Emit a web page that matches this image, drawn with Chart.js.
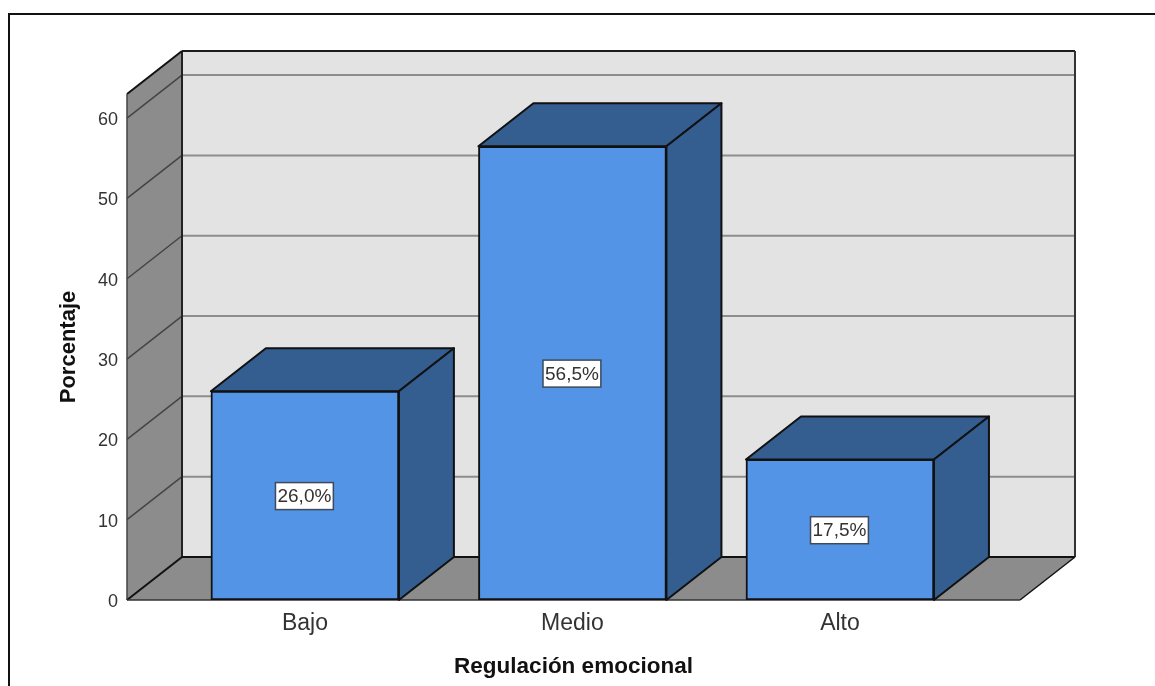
<!DOCTYPE html>
<html lang="es">
<head>
  <meta charset="UTF-8">
  <title>Regulación emocional</title>
  <script src="https://cdn.jsdelivr.net/npm/chart.js"></script>
  <style>
    html, body { margin: 0; background: #fff; overflow: hidden; }
    #marco {
      position: relative;
      width: 1155px;
      height: 686px;
    }
    #marco::before {
      content: '';
      position: absolute;
      left: 8px;
      top: 13px;
      right: 0;
      bottom: 0;
      border-left: 2px solid #111;
      border-top: 2px solid #111;
    }
    canvas { position: absolute; left: 0; top: 0; }
  </style>
</head>
<body>
  <div id="marco"><canvas id="grafico" width="1155" height="686"></canvas></div>

  <script>
    const categorias = ['Bajo', 'Medio', 'Alto'];
    const porcentajes = [26.0, 56.5, 17.5];
    const ticksY = [0, 10, 20, 30, 40, 50, 60];
    const maxY = 63;

    // desplazamiento de la profundidad 3D
    const profX = 55;
    const profY = -43;

    const fuente = '"Liberation Sans", Arial, sans-serif';

    function poligono(ctx, puntos, relleno, borde, grosor) {
      ctx.beginPath();
      puntos.forEach((p, i) => i ? ctx.lineTo(p[0], p[1]) : ctx.moveTo(p[0], p[1]));
      ctx.closePath();
      if (relleno) { ctx.fillStyle = relleno; ctx.fill(); }
      if (borde) { ctx.strokeStyle = borde; ctx.lineWidth = grosor; ctx.stroke(); }
    }

    function linea(ctx, x1, y1, x2, y2, color, grosor) {
      ctx.beginPath();
      ctx.moveTo(x1, y1);
      ctx.lineTo(x2, y2);
      ctx.strokeStyle = color;
      ctx.lineWidth = grosor;
      ctx.stroke();
    }

    // paredes, suelo y caras laterales de las barras
    const caja3d = {
      id: 'caja3d',
      beforeDatasetsDraw(chart) {
        const { ctx, chartArea: a, scales: { y } } = chart;
        const izq = a.left, der = a.right, arr = a.top, aba = a.bottom;
        ctx.save();
        ctx.lineJoin = 'round';

        poligono(ctx, [[izq + profX, arr + profY], [der + profX, arr + profY], [der + profX, aba + profY], [izq + profX, aba + profY]], '#e3e3e3');
        poligono(ctx, [[izq, arr], [izq + profX, arr + profY], [izq + profX, aba + profY], [izq, aba]], '#8c8c8c');
        poligono(ctx, [[izq, aba], [izq + profX, aba + profY], [der + profX, aba + profY], [der, aba]], '#8c8c8c');

        ticksY.forEach(v => {
          if (v === 0) return;
          const py = y.getPixelForValue(v);
          linea(ctx, izq, py, izq + profX, py + profY, '#444', 1.5);
          linea(ctx, izq + profX, py + profY, der + profX, py + profY, '#8d8d8d', 2);
        });

        linea(ctx, izq + profX, arr + profY, der + profX, arr + profY, '#1c1c1c', 2);
        linea(ctx, der + profX, arr + profY, der + profX, aba + profY, '#333', 2);
        linea(ctx, izq + profX, arr + profY, izq + profX, aba + profY, '#222', 2);
        linea(ctx, izq + profX, aba + profY, der + profX, aba + profY, '#111', 2);
        linea(ctx, izq, arr, izq + profX, arr + profY, '#111', 2);
        linea(ctx, izq, arr, izq, aba, '#444', 1.5);
        linea(ctx, izq, aba, izq + profX, aba + profY, '#111', 2);
        linea(ctx, der, aba, der + profX, aba + profY, '#111', 1.5);
        linea(ctx, izq, aba, der, aba, '#333', 1.5);

        chart.getDatasetMeta(0).data.forEach(barra => {
          const i0 = barra.x - barra.width / 2;
          const d0 = barra.x + barra.width / 2;
          poligono(ctx, [[i0, barra.y], [i0 + profX, barra.y + profY], [d0 + profX, barra.y + profY], [d0, barra.y]], '#345d90', '#111', 2);
          poligono(ctx, [[d0, barra.y], [d0 + profX, barra.y + profY], [d0 + profX, barra.base + profY], [d0, barra.base]], '#345d90', '#111', 2);
        });
        ctx.restore();
      },
      afterDatasetsDraw(chart) {
        const { ctx } = chart;
        ctx.save();
        ctx.font = '19px ' + fuente;
        ctx.textAlign = 'center';
        ctx.textBaseline = 'middle';
        chart.getDatasetMeta(0).data.forEach((barra, i) => {
          const texto = porcentajes[i].toFixed(1).replace('.', ',') + '%';
          const ancho = ctx.measureText(texto).width + 4;
          const cy = (barra.y + barra.base) / 2 + 0.5;
          ctx.fillStyle = '#fff';
          ctx.fillRect(barra.x - ancho / 2 - 0.5, cy - 13.5, ancho, 27);
          ctx.strokeStyle = '#3c4a5c';
          ctx.lineWidth = 1.5;
          ctx.strokeRect(barra.x - ancho / 2 - 0.5, cy - 13.5, ancho, 27);
          ctx.fillStyle = '#333';
          ctx.fillText(texto, barra.x - 0.5, cy + 1);
        });
        ctx.restore();
      }
    };

    new Chart(document.getElementById('grafico'), {
      type: 'bar',
      plugins: [caja3d],
      data: {
        datasets: [{
          data: porcentajes.map((v, i) => ({ x: i, y: v })),
          backgroundColor: '#5494e6',
          borderColor: '#111',
          borderWidth: 2,
          borderSkipped: false,
          barThickness: 188
        }]
      },
      options: {
        responsive: false,
        animation: false,
        layout: { padding: { top: 94, right: 135, left: 0, bottom: 0 } },
        plugins: { legend: { display: false }, tooltip: { enabled: false } },
        scales: {
          x: {
            type: 'linear',
            offset: false,
            min: -0.665,
            max: 2.673,
            grid: { display: false },
            border: { display: false },
            afterBuildTicks: s => { s.ticks = categorias.map((c, i) => ({ value: i })); },
            afterFit: s => { s.height = 86; },
            ticks: {
              autoSkip: false,
              maxRotation: 0,
              padding: 2,
              color: '#333',
              font: { family: fuente, size: 23 },
              callback: v => categorias[v]
            },
            title: {
              display: true,
              text: 'Regulación emocional',
              color: '#111',
              font: { family: fuente, size: 22.5, weight: 'bold' },
              padding: { top: 0, bottom: 6 }
            }
          },
          y: {
            min: 0,
            max: maxY,
            grid: { display: false },
            border: { display: false },
            afterBuildTicks: s => { s.ticks = ticksY.map(v => ({ value: v })); },
            afterFit: s => { s.width = 127; },
            ticks: {
              padding: 1,
              labelOffset: 2,
              color: '#333',
              font: { family: fuente, size: 18 }
            },
            title: {
              display: true,
              text: 'Porcentaje',
              color: '#111',
              font: { family: fuente, size: 22, weight: 'bold' },
              padding: { top: 56, bottom: 0 }
            }
          }
        }
      }
    });
  </script>
</body>
</html>
